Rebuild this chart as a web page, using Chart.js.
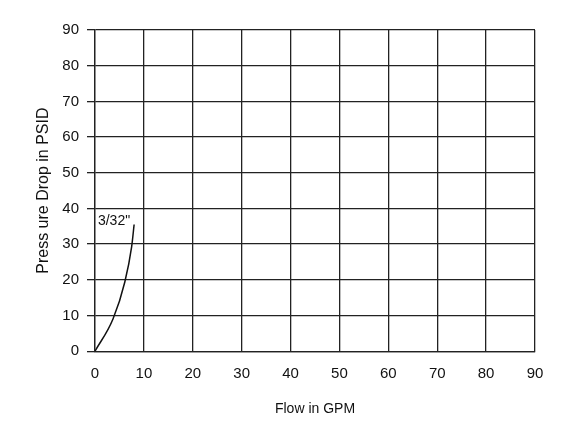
<!DOCTYPE html>
<html>
<head>
<meta charset="utf-8">
<script src="https://cdn.jsdelivr.net/npm/chart.js@4"></script>
<style>
  body { margin: 0; background: #fff; }
  #wrap { width: 580px; height: 436px; }
</style>
</head>
<body>
<div id="wrap"><canvas id="chart" width="580" height="436"></canvas></div>
<script>
const flowGpm = [0, 3.7, 6.1, 7.5, 8.0];
const pressureDrop = [0, 9.1, 19.4, 29.3, 35.5];
const curveLabel = "3/32\"";
const xTicks = [0, 10, 20, 30, 40, 50, 60, 70, 80, 90];
const yTicks = [0, 10, 20, 30, 40, 50, 60, 70, 80, 90];

const labelPlugin = {
  id: "curveLabel",
  afterDatasetsDraw(chart) {
    const { ctx, scales } = chart;
    ctx.save();
    ctx.font = "14px 'Liberation Sans', Arial, sans-serif";
    ctx.fillStyle = "#111";
    ctx.textBaseline = "middle";
    ctx.fillText(curveLabel, scales.x.getPixelForValue(0.6), scales.y.getPixelForValue(36.5));
    ctx.restore();
  },
};

const ctx = document.getElementById("chart").getContext("2d");
new Chart(ctx, {
  type: "scatter",
  data: {
    datasets: [
      {
        data: flowGpm.map((x, i) => ({ x, y: pressureDrop[i] })),
        showLine: true,
        borderColor: "#111",
        borderWidth: 1.5,
        pointRadius: 0,
        cubicInterpolationMode: "monotone",
      },
    ],
  },
  options: {
    responsive: false,
    animation: false,
    layout: { padding: { top: 30, right: 45, bottom: 14, left: 30 } },
    plugins: { legend: { display: false }, tooltip: { enabled: false } },
    scales: {
      x: {
        type: "linear",
        min: 0,
        max: 90,
        afterBuildTicks: (s) => { s.ticks = xTicks.map((v) => ({ value: v })); },
        grid: { color: "#222", lineWidth: 1.3, drawTicks: false },
        border: { color: "#222", width: 1.3 },
        ticks: { color: "#111", padding: 14, font: { size: 15, family: "'Liberation Sans', Arial, sans-serif" } },
        title: { display: true, text: "Flow in GPM", color: "#111", padding: { top: 4 }, font: { size: 14, family: "'Liberation Sans', Arial, sans-serif" } },
      },
      y: {
        type: "linear",
        min: 0,
        max: 90,
        afterBuildTicks: (s) => { s.ticks = yTicks.map((v) => ({ value: v })); },
        afterFit: (s) => { s.width = 65; },
        grid: { color: "#222", lineWidth: 1.3, drawTicks: true, tickLength: 8, tickColor: "#222" },
        border: { color: "#222", width: 1.3 },
        ticks: { color: "#111", padding: 8, font: { size: 15, family: "'Liberation Sans', Arial, sans-serif" } },
        title: { display: true, text: "Press ure Drop in PSID", color: "#111", padding: { bottom: 4 }, font: { size: 16, family: "'Liberation Sans', Arial, sans-serif" } },
      },
    },
  },
  plugins: [labelPlugin],
});
</script>
</body>
</html>
